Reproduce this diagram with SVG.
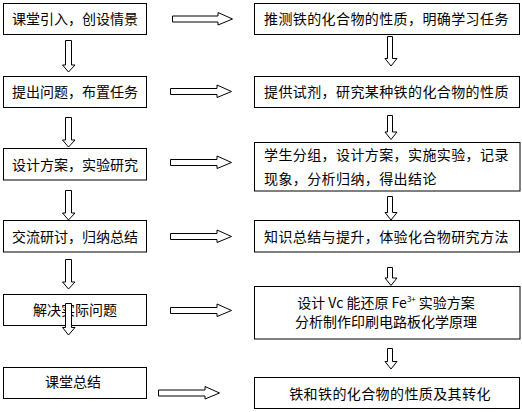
<svg xmlns="http://www.w3.org/2000/svg" width="522" height="412" viewBox="0 0 522 412">
<style>
.box{fill:#fff;stroke:#000;stroke-width:1}
.arr{fill:#fff;stroke:#000;stroke-width:1;stroke-linejoin:miter}
text{font-family:"Noto Sans CJK SC","Liberation Sans",sans-serif;font-size:14px;fill:#000}
.c{text-anchor:middle}
.l{letter-spacing:0.4px}
</style>
<rect width="522" height="412" fill="#fff"/>
<g id="L1"><rect class="box" x="3.5" y="3.5" width="143" height="31"/><text class="c" x="75" y="24">课堂引入，创设情景</text></g>
<g id="L2"><rect class="box" x="3.5" y="76.5" width="143" height="31"/><text class="c" x="75" y="97">提出问题，布置任务</text></g>
<g id="L3"><rect class="box" x="3.5" y="148.5" width="143" height="31.5"/><text class="c" x="75" y="169.5">设计方案，实验研究</text></g>
<g id="L4"><rect class="box" x="3.5" y="220.5" width="143" height="31.5"/><text class="c" x="75" y="241.5">交流研讨，归纳总结</text></g>
<g id="L5"><rect class="box" x="3.5" y="294.5" width="143" height="31"/><text class="c" x="75" y="314.5">解决实际问题</text></g>
<g id="L6"><rect class="box" x="3.5" y="367.5" width="143" height="31"/><text class="c" x="73" y="386.5">课堂总结</text></g>
<g id="R1"><rect class="box" x="254.5" y="3.5" width="265" height="31"/><text class="l" x="264" y="24">推测铁的化合物的性质，明确学习任务</text></g>
<g id="R2"><rect class="box" x="254.5" y="76.5" width="265" height="31"/><text class="l" x="264" y="97">提供试剂，研究某种铁的化合物的性质</text></g>
<g id="R3"><rect class="box" x="254.5" y="142.5" width="265.5" height="48.5"/><text class="l" x="264" y="159.5">学生分组，设计方案，实施实验，记录</text><text class="l" x="264" y="184">现象，分析归纳，得出结论</text></g>
<g id="R4"><rect class="box" x="254.5" y="220.5" width="265" height="31.5"/><text class="l" x="264" y="241.5">知识总结与提升，体验化合物研究方法</text></g>
<g id="R5"><rect class="box" x="254.5" y="286.5" width="265.5" height="52.5"/><text class="c" x="386" y="308">设计 Vc 能还原 Fe<tspan font-size="8" baseline-shift="6">3+</tspan><tspan dx="3">实验方案</tspan></text><text class="c" x="386" y="327">分析制作印刷电路板化学原理</text></g>
<g id="R6"><rect class="box" x="254.5" y="377.5" width="265" height="31"/><text class="c l" x="390" y="398.5">铁和铁的化合物的性质及其转化</text></g>
<g id="connectors">
<polygon class="arr" points="172.5,16 218,16 218,12.5 232.5,19 218,25 218,22 172.5,22"/>
<polygon class="arr" points="170.5,88.5 217,88.5 217,85 231.5,91.5 217,97.5 217,94.5 170.5,94.5"/>
<polygon class="arr" points="170.5,159.5 217,159.5 217,156 231.5,162.5 217,168.5 217,165.5 170.5,165.5"/>
<polygon class="arr" points="170.5,233.5 217,233.5 217,230 231.5,236.5 217,242.5 217,239.5 170.5,239.5"/>
<polygon class="arr" points="170.5,307.5 217,307.5 217,304 231.5,310.5 217,316.5 217,313.5 170.5,313.5"/>
<polygon class="arr" points="158.5,390 205,390 205,386.5 219.5,393 205,399 205,396 158.5,396"/>
<polygon class="arr" points="65.5,40.5 71.5,40.5 71.5,65 75,65 68.5,72 62.5,65 65.5,65"/>
<polygon class="arr" points="65.5,117.5 71.5,117.5 71.5,140 75,140 68.5,147 62.5,140 65.5,140"/>
<polygon class="arr" points="65.5,190.5 71.5,190.5 71.5,213 75,213 68.5,220 62.5,213 65.5,213"/>
<polygon class="arr" points="65.5,259.5 71.5,259.5 71.5,282 75,282 68.5,289 62.5,282 65.5,282"/>
<polygon class="arr" points="65.5,303.5 71.5,303.5 71.5,327.5 75,327.5 68.5,335 62.5,327.5 65.5,327.5"/>
<polygon class="arr" points="387.5,36.5 392.5,36.5 392.5,58.5 397,58.5 391,66 385,58.5 387.5,58.5"/>
<polygon class="arr" points="387.5,115.5 392.5,115.5 392.5,132 397,132 391,139.5 385,132 387.5,132"/>
<polygon class="arr" points="387.5,196.5 392.5,196.5 392.5,212.5 397,212.5 391,220 385,212.5 387.5,212.5"/>
<polygon class="arr" points="387.5,267.5 392.5,267.5 392.5,278 397,278 391,285.5 385,278 387.5,278"/>
<polygon class="arr" points="387.5,348.5 392.5,348.5 392.5,361.5 397,361.5 391,369 385,361.5 387.5,361.5"/>
</g>
</svg>
